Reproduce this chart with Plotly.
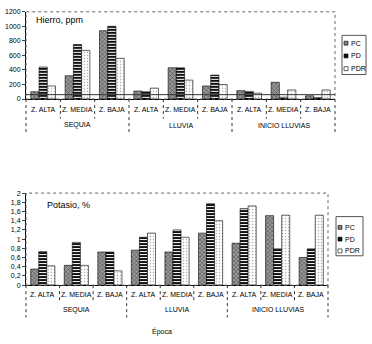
import plotly.graph_objects as go

groups = ["SEQUIA"] * 3 + ["LLUVIA"] * 3 + ["INICIO LLUVIAS"] * 3
zones = ["Z. ALTA", "Z. MEDIA", "Z. BAJA"] * 3
group_names = ["SEQUIA", "LLUVIA", "INICIO LLUVIAS"]

fe_pc = [100, 320, 940, 110, 430, 180, 115, 230, 45]
fe_pd = [440, 750, 1000, 100, 430, 330, 105, 25, 20]
fe_pdr = [180, 670, 560, 150, 260, 200, 80, 125, 125]
fe_ref = 60

k_pc = [0.35, 0.43, 0.72, 0.76, 0.72, 1.13, 0.91, 1.51, 0.60]
k_pd = [0.73, 0.93, 0.72, 1.04, 1.20, 1.77, 1.66, 0.79, 0.79]
k_pdr = [0.42, 0.43, 0.31, 1.13, 1.04, 1.40, 1.72, 1.52, 1.52]

series = ["PC", "PD", "PDR"]
W, H = 372, 344
FONT = "Liberation Sans, Arial, sans-serif"

styles = {
    "PC": dict(color="#8c8c8c", swatch="#808080",
               pattern=dict(shape="x", fgcolor="#3a3a3a", bgcolor="#9a9a9a", size=3, solidity=0.3, fillmode="replace")),
    "PD": dict(color="#111111", swatch="#111111",
               pattern=dict(shape="-", fgcolor="#ffffff", bgcolor="#111111", size=3, solidity=0.35, fillmode="replace")),
    "PDR": dict(color="#ffffff", swatch="#ffffff",
                pattern=dict(shape=".", fgcolor="#aaaaaa", bgcolor="#ffffff", size=3, solidity=0.2, fillmode="replace")),
}

fig = go.Figure()
x = [groups, zones]
for name, vals in zip(series, [fe_pc, fe_pd, fe_pdr]):
    fig.add_trace(go.Bar(x=x, y=vals, name=name, xaxis="x", yaxis="y", showlegend=False,
                         marker=dict(color=styles[name]["color"], pattern=styles[name]["pattern"],
                                     line=dict(color="#000", width=0.6))))
for name, vals in zip(series, [k_pc, k_pd, k_pdr]):
    fig.add_trace(go.Bar(x=x, y=vals, name=name, xaxis="x2", yaxis="y2", showlegend=False,
                         marker=dict(color=styles[name]["color"], pattern=styles[name]["pattern"],
                                     line=dict(color="#000", width=0.6))))

def px(v):
    return v / W

def py(v):
    return 1 - v / H

axis_common = dict(showgrid=False, zeroline=False, showline=True, linecolor="#000", linewidth=1,
                   tickfont=dict(size=7, family=FONT, color="#000"))

fig.update_layout(
    width=W, height=H, margin=dict(l=0, r=0, t=0, b=0),
    paper_bgcolor="white", plot_bgcolor="white",
    separators=",.",
    barmode="group", bargap=0.28, bargroupgap=0,
    font=dict(family=FONT, size=7, color="#000"),
    showlegend=False,
    xaxis=dict(domain=[px(26), px(335)], anchor="y", type="multicategory", ticks="",
               showticklabels=False, showdividers=False, **axis_common),
    yaxis=dict(domain=[py(97), py(8)], anchor="x", range=[0, 1200], dtick=200, ticks="outside",
               ticklen=3, **axis_common),
    xaxis2=dict(domain=[px(26), px(328)], anchor="y2", type="multicategory", ticks="",
                showticklabels=False, showdividers=False, **axis_common),
    yaxis2=dict(domain=[py(287), py(193)], anchor="x2", range=[0, 2], dtick=0.2, ticks="outside",
                ticklen=3, **axis_common),
)

fig.add_shape(type="rect", xref="x domain", yref="y domain", x0=0, x1=1, y0=0, y1=1,
              line=dict(color="#666", width=1, dash="dot"))
fig.add_shape(type="rect", xref="x2 domain", yref="y2 domain", x0=0, x1=1, y0=0, y1=1,
              line=dict(color="#666", width=1, dash="dot"))
fig.add_shape(type="line", xref="x domain", yref="y", x0=0, x1=1, y0=fe_ref, y1=fe_ref,
              line=dict(color="#333", width=1))

# category label table beneath each chart
def add_cat_labels(x_left, x_right, y_axis, y_zone, y_group, y_short, y_long):
    n = len(zones)
    cw = (x_right - x_left) / n
    for i, z in enumerate(zones):
        fig.add_annotation(x=px(x_left + (i + 0.5) * cw), y=py(y_zone), xref="paper", yref="paper",
                           text=z, showarrow=False, xanchor="center", yanchor="middle",
                           font=dict(size=7, family=FONT))
    for j, g in enumerate(group_names):
        fig.add_annotation(x=px(x_left + (3 * j + 1.5) * cw), y=py(y_group), xref="paper", yref="paper",
                           text=g, showarrow=False, xanchor="center", yanchor="middle",
                           font=dict(size=7, family=FONT))
    for b in range(n + 1):
        yb = y_long if b % 3 == 0 else y_short
        xb = x_left + b * cw
        fig.add_shape(type="line", xref="paper", yref="paper", x0=px(xb), x1=px(xb),
                      y0=py(y_axis), y1=py(yb), line=dict(color="#333", width=1, dash="dot"))

add_cat_labels(26, 335, 97, 108, 124, 117, 132)
add_cat_labels(26, 328, 287, 297, 312, 305, 320)

# custom compact legends
def add_legend(x0, x1, y0, y1, rows):
    fig.add_shape(type="rect", xref="paper", yref="paper", x0=px(x0), x1=px(x1), y0=py(y1), y1=py(y0),
                  line=dict(color="#555", width=1), fillcolor="white", layer="below")
    for name, yc in zip(series, rows):
        fig.add_shape(type="rect", xref="paper", yref="paper", x0=px(x0 + 2), x1=px(x0 + 6),
                      y0=py(yc + 2), y1=py(yc - 2), fillcolor=styles[name]["swatch"],
                      line=dict(color="#000", width=0.6))
        fig.add_annotation(x=px(x0 + 7), y=py(yc), xref="paper", yref="paper", xanchor="left",
                           yanchor="middle", text=name, showarrow=False,
                           font=dict(size=7, family=FONT))

add_legend(342, 366, 32, 72, [40, 53, 66])
add_legend(336, 363, 217, 257, [228, 240, 252])

fig.add_annotation(x=px(34), y=py(16), xref="paper", yref="paper", xanchor="left", yanchor="middle",
                   text="Hierro, ppm", showarrow=False, font=dict(size=9, family=FONT))
fig.add_annotation(x=px(45), y=py(205), xref="paper", yref="paper", xanchor="left", yanchor="middle",
                   text="Potasio, %", showarrow=False, font=dict(size=9, family=FONT))
fig.add_annotation(x=px(162), y=py(334), xref="paper", yref="paper", xanchor="center", yanchor="middle",
                   text="Época", showarrow=False, font=dict(size=7, family=FONT))

fig.write_html("out.html", config={"displayModeBar": False},
               post_script="document.body.style.margin='0';document.body.style.padding='0';")
